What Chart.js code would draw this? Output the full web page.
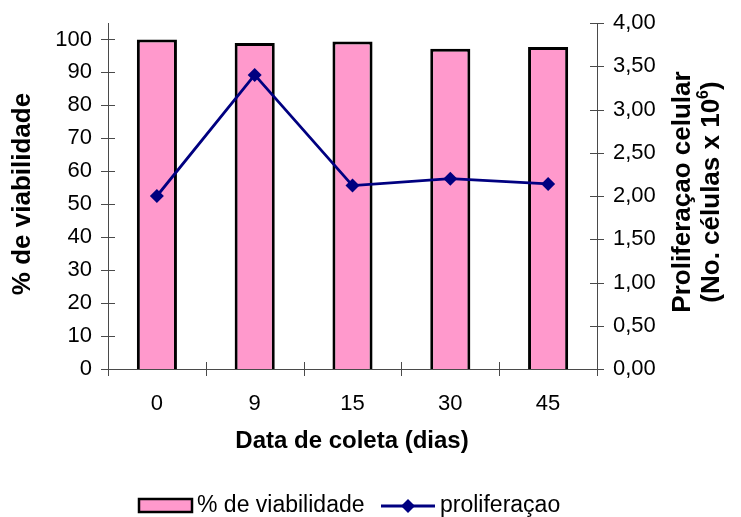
<!DOCTYPE html>
<html>
<head>
<meta charset="utf-8">
<script src="https://cdn.jsdelivr.net/npm/chart.js@4/dist/chart.umd.min.js"></script>
<style>
  html, body { margin: 0; padding: 0; background: #ffffff; }
  #wrap { width: 741px; height: 517px; }
</style>
</head>
<body>
<div id="wrap"><canvas id="c" width="741" height="517"></canvas></div>
<script>
// Collection days and measured values
const categories = ['0', '9', '15', '30', '45'];
const viabilidade = [100, 98.9, 99.4, 97.2, 97.7];      // % de viabilidade
const proliferacao = [2.00, 3.40, 2.12, 2.20, 2.14];    // No. células x 10^6

const leftTickValues = [0, 10, 20, 30, 40, 50, 60, 70, 80, 90, 100];
const rightTickValues = [0, 0.5, 1, 1.5, 2, 2.5, 3, 3.5, 4];

const labelViab = '% de viabilidade';
const labelProl = 'proliferaçao';
const titleX = 'Data de coleta (dias)';
const titleLeft = '% de viabilidade';
const titleRight1 = 'Proliferaçao celular';
const titleRight2a = '(No. células x 10';
const titleRight2sup = '6';
const titleRight2b = ')';

const FONT = 'Arial, "Liberation Sans", Helvetica, sans-serif';
const AXIS_COLOR = '#4a4a4a';
const PINK = '#FF99CC';
const NAVY = '#000080';

// Tick marks that cross the axis lines, plus category separators on x
const crossTicks = {
  id: 'crossTicks',
  afterDraw(chart) {
    const { ctx, scales: { x, y, y1 } } = chart;
    const half = 7;
    ctx.save();
    ctx.strokeStyle = AXIS_COLOR;
    ctx.lineWidth = 1;
    ctx.beginPath();
    y.ticks.forEach((t, i) => {
      const py = Math.round(y.getPixelForTick(i)) + 0.5;
      ctx.moveTo(y.right - half, py); ctx.lineTo(y.right + half, py);
    });
    y1.ticks.forEach((t, i) => {
      const py = Math.round(y1.getPixelForTick(i)) + 0.5;
      ctx.moveTo(y1.left - half, py); ctx.lineTo(y1.left + half, py);
    });
    const n = categories.length;
    for (let i = 0; i <= n; i++) {
      const px = Math.round(x.left + i * (x.width / n)) + 0.5;
      ctx.moveTo(px, x.top - half); ctx.lineTo(px, x.top + half);
    }
    ctx.stroke();
    ctx.restore();
  }
};

// Axis titles and the legend row
const titlesAndLegend = {
  id: 'titlesAndLegend',
  afterDraw(chart) {
    const { ctx } = chart;
    ctx.save();
    ctx.fillStyle = '#000';

    // x title
    ctx.font = 'bold 24px ' + FONT;
    ctx.textAlign = 'center';
    ctx.textBaseline = 'middle';
    ctx.fillText(titleX, 352, 441);

    // left title
    ctx.save();
    ctx.translate(23, 194);
    ctx.rotate(-Math.PI / 2);
    ctx.font = 'bold 26px ' + FONT;
    ctx.fillText(titleLeft, 0, 0);
    ctx.restore();

    // right title, two lines, second with superscript
    ctx.save();
    ctx.translate(683, 192);
    ctx.rotate(-Math.PI / 2);
    ctx.font = 'bold 26px ' + FONT;
    ctx.textAlign = 'center';
    ctx.fillText(titleRight1, 0, 0);
    ctx.restore();

    ctx.save();
    ctx.translate(712, 192);
    ctx.rotate(-Math.PI / 2);
    ctx.font = 'bold 26px ' + FONT;
    const wa = ctx.measureText(titleRight2a).width;
    const wb = ctx.measureText(titleRight2b).width;
    ctx.font = 'bold 16px ' + FONT;
    const ws = ctx.measureText(titleRight2sup).width;
    const total = wa + ws + wb;
    let sx = -total / 2;
    ctx.textAlign = 'left';
    ctx.font = 'bold 26px ' + FONT;
    ctx.fillText(titleRight2a, sx, 0);
    sx += wa;
    ctx.font = 'bold 16px ' + FONT;
    ctx.fillText(titleRight2sup, sx, -8);
    sx += ws;
    ctx.font = 'bold 26px ' + FONT;
    ctx.fillText(titleRight2b, sx, 0);
    ctx.restore();

    // legend
    const ly = 506;
    ctx.fillStyle = PINK;
    ctx.fillRect(139, 499, 53, 13);
    ctx.strokeStyle = '#000';
    ctx.lineWidth = 2.5;
    ctx.strokeRect(139, 499, 53, 13);
    ctx.fillStyle = '#000';
    ctx.font = '23px ' + FONT;
    ctx.textAlign = 'left';
    ctx.textBaseline = 'middle';
    ctx.fillText(labelViab, 197, ly);

    ctx.strokeStyle = NAVY;
    ctx.lineWidth = 2.8;
    ctx.beginPath();
    ctx.moveTo(381, ly); ctx.lineTo(435, ly);
    ctx.stroke();
    ctx.fillStyle = NAVY;
    ctx.beginPath();
    ctx.moveTo(408, ly - 7); ctx.lineTo(415, ly); ctx.lineTo(408, ly + 7); ctx.lineTo(401, ly);
    ctx.closePath();
    ctx.fill();
    ctx.fillStyle = '#000';
    ctx.fillText(labelProl, 440, ly);

    ctx.restore();
  }
};

// Fixed axis sizes; vertical axes reserve no extra space above/below
function fitVertical(width) {
  return (scale) => {
    scale.width = width;
    scale.paddingTop = 0;
    scale.paddingBottom = 0;
  };
}

new Chart(document.getElementById('c'), {
  data: {
    labels: categories,
    datasets: [
      {
        type: 'line',
        label: labelProl,
        data: proliferacao,
        yAxisID: 'y1',
        order: 0,
        borderColor: NAVY,
        borderWidth: 2.8,
        tension: 0,
        pointStyle: 'rectRot',
        pointRadius: 7,
        pointHoverRadius: 7,
        pointBackgroundColor: NAVY,
        pointBorderColor: NAVY,
        pointBorderWidth: 0
      },
      {
        type: 'bar',
        label: labelViab,
        data: viabilidade,
        yAxisID: 'y',
        order: 1,
        backgroundColor: PINK,
        borderColor: '#000',
        borderWidth: 3,
        barPercentage: 0.41,
        categoryPercentage: 1
      }
    ]
  },
  options: {
    responsive: false,
    animation: false,
    layout: { padding: { top: 23, left: 0, right: 0, bottom: 0 } },
    plugins: {
      legend: { display: false },
      tooltip: { enabled: false },
      title: { display: false }
    },
    scales: {
      x: {
        type: 'category',
        offset: true,
        grid: { display: false, drawTicks: false },
        border: { display: true, color: AXIS_COLOR, width: 1 },
        ticks: { color: '#000', font: { family: FONT, size: 22 }, padding: 22 },
        afterFit(scale) {
          scale.height = 148;
          scale.paddingLeft = 0;
          scale.paddingRight = 0;
        }
      },
      y: {
        type: 'linear',
        position: 'left',
        min: 0,
        max: 105,
        grid: { display: false, drawTicks: false },
        border: { display: true, color: AXIS_COLOR, width: 1 },
        ticks: { stepSize: 10, color: '#000', font: { family: FONT, size: 22 }, padding: 16 },
        afterBuildTicks(scale) {
          scale.ticks = leftTickValues.map(v => ({ value: v }));
        },
        afterFit: fitVertical(108)
      },
      y1: {
        type: 'linear',
        position: 'right',
        min: 0,
        max: 4,
        grid: { display: false, drawTicks: false },
        border: { display: true, color: AXIS_COLOR, width: 1 },
        ticks: {
          stepSize: 0.5,
          color: '#000',
          font: { family: FONT, size: 22 },
          padding: 16,
          callback: (v) => Number(v).toFixed(2).replace('.', ',')
        },
        afterBuildTicks(scale) {
          scale.ticks = rightTickValues.map(v => ({ value: v }));
        },
        afterFit: fitVertical(144)
      }
    }
  },
  plugins: [crossTicks, titlesAndLegend]
});
</script>
</body>
</html>
